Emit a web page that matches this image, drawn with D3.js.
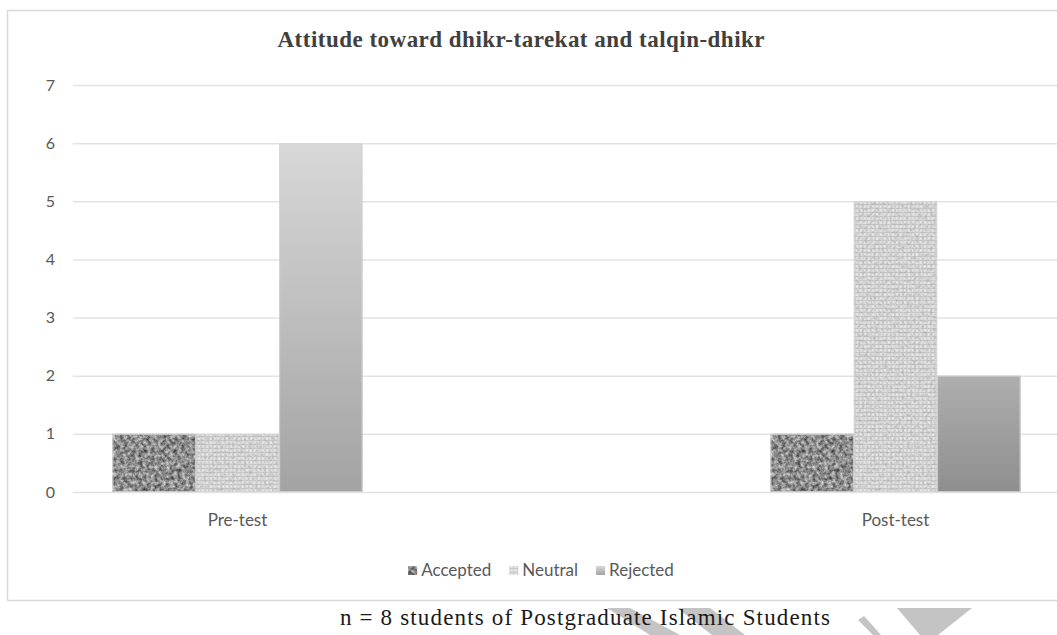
<!DOCTYPE html>
<html>
<head>
<meta charset="utf-8">
<script src="https://cdn.jsdelivr.net/npm/d3@7"></script>
<style>
  html, body { margin: 0; padding: 0; background: #fff; }
  svg { display: block; }
</style>
</head>
<body>
<svg id="chart" width="1057" height="635"></svg>
<script>
// Attitude counts per test phase
const categories = ["Pre-test", "Post-test"];
const seriesNames = ["Accepted", "Neutral", "Rejected"];
const accepted = [1, 1];
const neutral = [1, 5];
const rejected = [6, 2];
const yTicks = [0, 1, 2, 3, 4, 5, 6, 7];
const titleText = "Attitude toward dhikr-tarekat and talqin-dhikr";
const captionText = "n = 8 students of Postgraduate Islamic Students";

const seriesValues = { Accepted: accepted, Neutral: neutral, Rejected: rejected };

const svg = d3.select("#chart");
const W = 1057, H = 635;
const plot = { left: 73, right: 1060, top: 85, bottom: 492 };
const labelFont = "Lato, 'Open Sans', sans-serif";

const defs = svg.append("defs");

// Granite-like mottled texture for "Accepted"
const granite = defs.append("filter").attr("id", "granite")
  .attr("x", 0).attr("y", 0).attr("width", 1).attr("height", 1)
  .attr("filterUnits", "objectBoundingBox")
  .attr("color-interpolation-filters", "sRGB");
granite.append("feTurbulence").attr("type", "fractalNoise")
  .attr("baseFrequency", 0.26).attr("numOctaves", 3).attr("seed", 7).attr("result", "noise");
granite.append("feColorMatrix").attr("in", "noise").attr("type", "matrix")
  .attr("values", "0.9 0 0 0 0.1  0.9 0 0 0 0.1  0.9 0 0 0 0.1  0 0 0 0 1").attr("result", "gray");
granite.append("feGaussianBlur").attr("in", "gray").attr("stdDeviation", 0.5).attr("result", "soft");
granite.append("feComposite").attr("in", "soft").attr("in2", "SourceGraphic").attr("operator", "in");

// Woven grid texture for "Neutral"
const weave = defs.append("pattern").attr("id", "weave")
  .attr("patternUnits", "userSpaceOnUse").attr("width", 4).attr("height", 4);
weave.append("rect").attr("width", 4).attr("height", 4).attr("fill", "#e0e0e0");
weave.append("rect").attr("x", 0).attr("y", 0).attr("width", 4).attr("height", 1).attr("fill", "#c8c8c8");
weave.append("rect").attr("x", 0).attr("y", 0).attr("width", 1).attr("height", 4).attr("fill", "#cdcdcd");
weave.append("rect").attr("x", 2).attr("y", 2).attr("width", 1).attr("height", 1).attr("fill", "#f2f2f2");

const weaveNoise = defs.append("filter").attr("id", "weaveNoise")
  .attr("x", 0).attr("y", 0).attr("width", 1).attr("height", 1)
  .attr("color-interpolation-filters", "sRGB");
weaveNoise.append("feTurbulence").attr("type", "fractalNoise")
  .attr("baseFrequency", 0.35).attr("numOctaves", 2).attr("seed", 3).attr("result", "n");
weaveNoise.append("feColorMatrix").attr("in", "n").attr("type", "matrix")
  .attr("values", "0 0 0 0 0.62  0 0 0 0 0.62  0 0 0 0 0.62  0 0 0 1.3 -0.55").attr("result", "spots");
weaveNoise.append("feComposite").attr("in", "spots").attr("in2", "SourceGraphic").attr("operator", "in").attr("result", "clipped");
weaveNoise.append("feMerge").call(m => {
  m.append("feMergeNode").attr("in", "SourceGraphic");
  m.append("feMergeNode").attr("in", "clipped");
});

// Vertical gray gradients for "Rejected", one per phase
const rejectedShades = [["#d8d8d8", "#a3a3a3"], ["#aeaeae", "#8f8f8f"]];
categories.forEach((c, i) => {
  const g = defs.append("linearGradient").attr("id", "rej" + i)
    .attr("x1", 0).attr("y1", 0).attr("x2", 0).attr("y2", 1);
  g.append("stop").attr("offset", "0%").attr("stop-color", rejectedShades[i][0]);
  g.append("stop").attr("offset", "100%").attr("stop-color", rejectedShades[i][1]);
});

// Chart frame
svg.append("rect").attr("x", 7.5).attr("y", 10.5).attr("width", 1070).attr("height", 590)
  .attr("fill", "#fff").attr("stroke", "#d9d9d9").attr("stroke-width", 1.5);

// Scales
const x0 = d3.scaleBand().domain(categories).range([plot.left, plot.right])
  .paddingInner(0.62).paddingOuter(0.06);
const x1 = d3.scaleBand().domain(seriesNames).range([0, x0.bandwidth()]).padding(0);
const y = d3.scaleLinear().domain([0, 7]).range([plot.bottom, plot.top]);

// Gridlines and y labels
const yAxis = d3.axisLeft(y).tickValues(yTicks).tickSize(-(W - plot.left)).tickPadding(18)
  .tickFormat(d3.format("d"));
const ya = svg.append("g").attr("transform", `translate(${plot.left},0)`).call(yAxis);
ya.select(".domain").remove();
ya.selectAll(".tick line").attr("stroke", "#e3e3e3").attr("stroke-width", 1.5);
ya.selectAll(".tick text").attr("fill", "#595959")
  .style("font-family", labelFont).style("font-size", "16px");

// Bars
const rows = categories.map((c, i) => ({ cat: c, idx: i }));
const groups = svg.append("g").selectAll("g").data(rows).join("g")
  .attr("transform", d => `translate(${x0(d.cat)},0)`);

groups.selectAll("rect").data(d => seriesNames.map(s => ({ s, v: seriesValues[s][d.idx], idx: d.idx })))
  .join("rect")
  .attr("x", d => x1(d.s))
  .attr("y", d => y(d.v))
  .attr("width", x1.bandwidth())
  .attr("height", d => y(0) - y(d.v))
  .attr("fill", d => d.s === "Accepted" ? "#888" : d.s === "Neutral" ? "url(#weave)" : `url(#rej${d.idx})`)
  .attr("filter", d => d.s === "Accepted" ? "url(#granite)" : d.s === "Neutral" ? "url(#weaveNoise)" : null);

// Thin light outline on bars
groups.selectAll("rect.edge").data(d => seriesNames.map(s => ({ s, v: seriesValues[s][d.idx] })))
  .join("rect").attr("class", "edge")
  .attr("x", d => x1(d.s) + 0.5)
  .attr("y", d => y(d.v) + 0.5)
  .attr("width", x1.bandwidth() - 1)
  .attr("height", d => y(0) - y(d.v) - 1)
  .attr("fill", "none").attr("stroke", "#d4d4d4").attr("stroke-width", 1).attr("stroke-opacity", 0.8);

// Category labels
svg.append("g").selectAll("text").data(categories).join("text")
  .attr("x", d => x0(d) + x0.bandwidth() / 2)
  .attr("y", 526)
  .attr("text-anchor", "middle")
  .attr("fill", "#595959")
  .style("font-family", labelFont).style("font-size", "17px")
  .text(d => d);

// Title
svg.append("text").attr("x", 521).attr("y", 47).attr("text-anchor", "middle")
  .attr("fill", "#404040")
  .attr("textLength", 487).attr("lengthAdjust", "spacing")
  .style("font-family", "'Liberation Serif', serif").style("font-weight", "bold").style("font-size", "23px")
  .text(titleText);

// Legend
const legend = svg.append("g");
const swatchFill = { Accepted: "#888", Neutral: "url(#weave)", Rejected: "url(#rej0)" };
const swatchFilter = { Accepted: "url(#granite)", Neutral: null, Rejected: null };
let lx = 0;
seriesNames.forEach(s => {
  const g = legend.append("g").attr("transform", `translate(${lx},0)`);
  g.append("rect").attr("x", 0).attr("y", -10).attr("width", 9).attr("height", 9)
    .attr("fill", swatchFill[s]).attr("filter", swatchFilter[s]);
  const t = g.append("text").attr("x", 13).attr("y", 0).attr("fill", "#595959")
    .style("font-family", labelFont).style("font-size", "17px").text(s);
  const w = 13 + t.node().getComputedTextLength();
  lx += w + 18;
});
const legendWidth = lx - 18;
legend.attr("transform", `translate(${541 - legendWidth / 2},576)`);

// Light watermark strokes below the frame
const marks = [
  [[607, 608], [630, 608], [680, 635], [650, 635]],
  [[677, 608], [710, 608], [745, 635], [712, 635]],
  [[858, 620], [864, 616], [881, 635], [873, 635]],
  [[897, 608], [972, 608], [938, 635], [920, 635]]
];
svg.append("g").selectAll("path").data(marks).join("path")
  .attr("d", d => d3.line()(d) + "Z")
  .attr("fill", "#c4c4c4");

// Caption
svg.append("text").attr("x", 585).attr("y", 625).attr("text-anchor", "middle")
  .attr("fill", "#1a1a1a")
  .attr("textLength", 490).attr("lengthAdjust", "spacing")
  .style("font-family", "'Liberation Serif', serif").style("font-size", "23px")
  .text(captionText);
</script>
</body>
</html>
